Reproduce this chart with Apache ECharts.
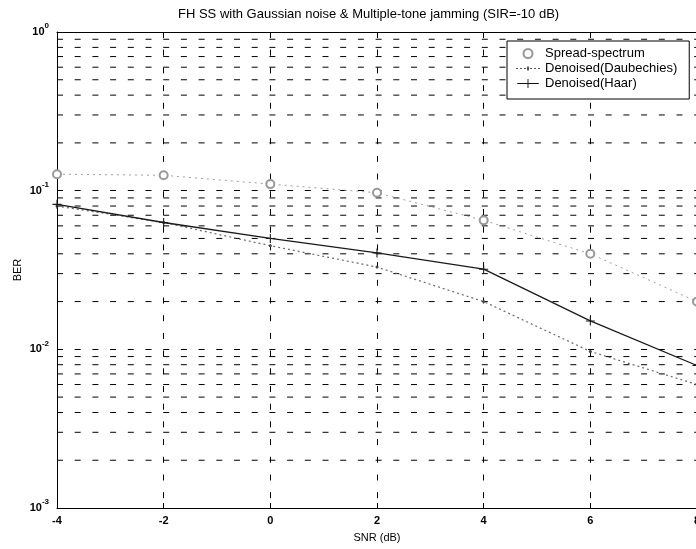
<!DOCTYPE html>
<html>
<head>
<meta charset="utf-8">
<script src="https://cdn.jsdelivr.net/npm/echarts@6/dist/echarts.min.js"></script>
<style>
html,body{margin:0;padding:0;background:#fff;}
#chart{width:696px;height:549px;}
</style>
</head>
<body>
<div id="chart"></div>
<script>
// ---- data ----
var snr = [-4, -2, 0, 2, 4, 6, 8];
var spreadSpectrum = [0.127, 0.125, 0.110, 0.097, 0.065, 0.040, 0.020];
var daubechies = [0.080, 0.063, 0.045, 0.033, 0.020, 0.0097, 0.0060];
var haar = [0.082, 0.063, 0.050, 0.0405, 0.032, 0.0151, 0.0079];
var seriesNames = ['Spread-spectrum', 'Denoised(Daubechies)', 'Denoised(Haar)'];
var titleText = 'FH SS with Gaussian noise & Multiple-tone jamming (SIR=-10 dB)';
var xTicks = [-4, -2, 0, 2, 4, 6, 8];
var yDecades = [0.001, 0.01, 0.1, 1];
var minorMultipliers = [2, 3, 4, 5, 6, 7, 8, 9];

function pairs(xs, ys) { return xs.map(function (x, i) { return [x, ys[i]]; }); }

var FONT = 'Liberation Sans, Arial, sans-serif';
var DASH = [6, 11.7];
var plusPath = 'path://M0,4.4H10V5.6H0Z M4.4,0H5.6V10H4.4Z';

// minor (2..9 x decade) dashed grid lines, drawn through the axes
var minorGridSeries = [];
yDecades.slice(0, 3).forEach(function (d) {
  minorMultipliers.forEach(function (m) {
    var v = +(d * m).toPrecision(3);
    minorGridSeries.push({
      name: 'minor' + v, type: 'line', z: 1, silent: true, legendHoverLink: false,
      symbol: 'none', animation: false,
      data: [[xTicks[0], v], [xTicks[xTicks.length - 1], v]],
      lineStyle: { color: '#000', width: 1, type: DASH },
      emphasis: { disabled: true }
    });
  });
});

var chart = echarts.init(document.getElementById('chart'), null, { renderer: 'canvas' });
chart.setOption({
  animation: false,
  backgroundColor: '#ffffff',
  title: {
    text: titleText,
    left: 178, top: 8, padding: 0,
    textStyle: { fontFamily: FONT, fontSize: 13, fontWeight: 'normal', color: '#000' }
  },
  legend: {
    orient: 'vertical',
    left: 507, top: 41,
    padding: [6, 12, 9, 9],
    itemGap: 2,
    itemWidth: 24, itemHeight: 9,
    borderColor: '#000', borderWidth: 1, borderRadius: 0,
    backgroundColor: '#fff',
    z: 10,
    data: [
      { name: seriesNames[0], icon: 'emptyCircle', itemStyle: { color: '#999', borderColor: '#999', borderWidth: 1 } },
      { name: seriesNames[1], icon: 'path://M0,4.5h2v1h-2z M4,4.5h2v1h-2z M8,4.5h2v1h-2z M11,3h2v4h-2z M14,4.5h2v1h-2z M18,4.5h2v1h-2z M22,4.5h2v1h-2z', itemStyle: { color: '#555' } },
      { name: seriesNames[2], icon: 'path://M0,4.5H24V5.5H0Z M11.5,0H12.5V10H11.5Z', itemStyle: { color: '#111' } }
    ],
    textStyle: { fontFamily: FONT, fontSize: 13, color: '#000' }
  },
  grid: { left: 57, top: 32, width: 640, height: 476, containLabel: false, outerBoundsMode: 'none' },
  xAxis: [{
    type: 'value', min: -4, max: 8, interval: 2,
    name: 'SNR (dB)', nameLocation: 'middle', nameGap: 24, nameMoveOverlap: false,
    nameTextStyle: { fontFamily: FONT, fontSize: 11, color: '#000' },
    axisLine: { show: true, onZero: false, lineStyle: { color: '#000', width: 1 } },
    axisTick: { show: true, inside: true, length: 5, lineStyle: { color: '#000' } },
    axisLabel: { margin: 7, fontFamily: FONT, fontSize: 11, fontWeight: 'bold', color: '#000' },
    splitLine: { show: true, lineStyle: { color: '#000', width: 1, type: DASH } }
  }, {
    type: 'value', min: -4, max: 8, interval: 2, position: 'top',
    axisLine: { show: true, onZero: false, lineStyle: { color: '#000', width: 1 } },
    axisTick: { show: true, inside: true, length: 5, lineStyle: { color: '#000' } },
    axisLabel: { show: false }, splitLine: { show: false }
  }],
  yAxis: [{
    type: 'log', min: 0.001, max: 1, logBase: 10,
    name: 'BER', nameLocation: 'middle', nameGap: 34, nameMoveOverlap: false,
    nameTextStyle: { fontFamily: FONT, fontSize: 11, color: '#000' },
    axisLine: { show: true, onZero: false, lineStyle: { color: '#000', width: 1 } },
    axisTick: { show: true, inside: true, length: 5, lineStyle: { color: '#000' } },
    axisLabel: {
      margin: 8,
      formatter: function (v) {
        var e = Math.round(Math.log10(v));
        return '{b|10}{e|' + e + '}';
      },
      rich: {
        b: { fontFamily: FONT, fontSize: 11, fontWeight: 'bold', color: '#000' },
        e: { fontFamily: FONT, fontSize: 8, fontWeight: 'bold', color: '#000', padding: [0, 0, 12, 0] }
      }
    },
    splitLine: { show: true, lineStyle: { color: '#000', width: 1, type: DASH } }
  }],
  series: minorGridSeries.concat([
    {
      name: seriesNames[0], type: 'line', z: 3,
      data: pairs(snr, spreadSpectrum),
      symbol: 'emptyCircle', symbolSize: 8, showAllSymbol: true,
      lineStyle: { color: '#a0a0a0', width: 1, type: [2, 4] },
      itemStyle: { color: '#999', borderColor: '#999', borderWidth: 1 }
    },
    {
      name: seriesNames[1], type: 'line', z: 3,
      data: pairs(snr, daubechies),
      symbol: 'circle', symbolSize: 3,
      lineStyle: { color: '#6a6a6a', width: 1.2, type: [2, 3] },
      itemStyle: { color: '#444' }
    },
    {
      name: seriesNames[2], type: 'line', z: 4,
      data: pairs(snr, haar),
      symbol: plusPath, symbolSize: 9,
      lineStyle: { color: '#1a1a1a', width: 1.3, type: 'solid' },
      itemStyle: { color: '#1a1a1a' }
    }
  ])
});
</script>
</body>
</html>
